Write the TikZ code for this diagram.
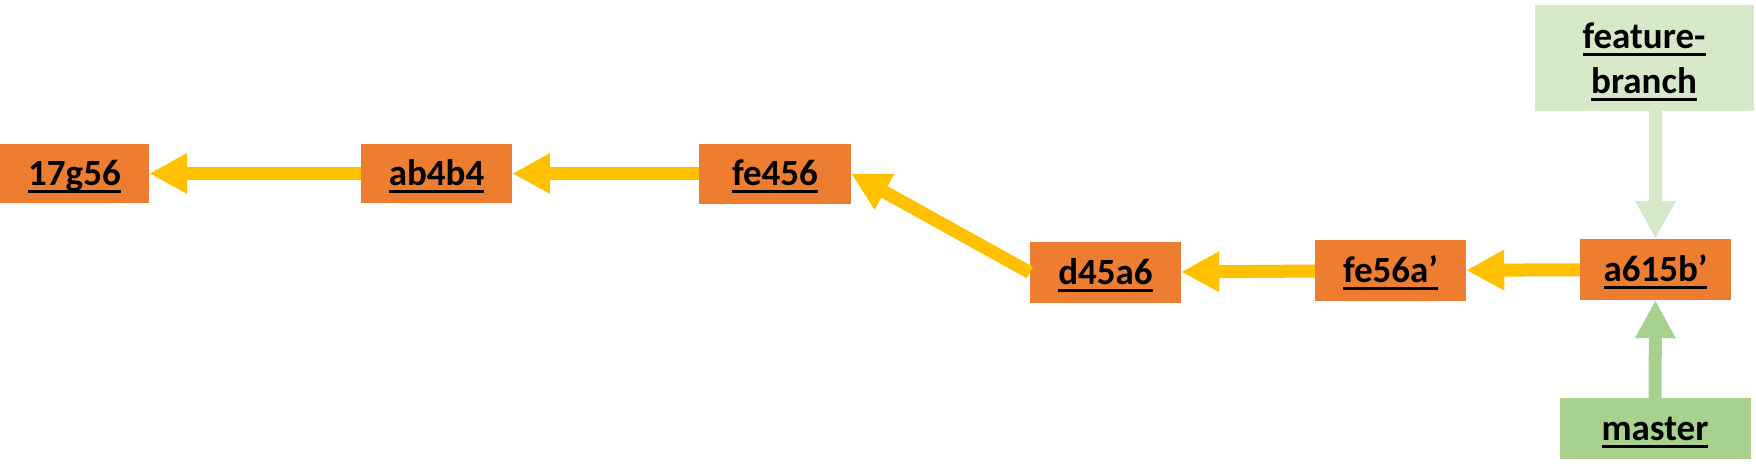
\documentclass[tikz,border=0pt]{standalone}
\usepackage{fontspec}
\setmainfont{Carlito}
\usetikzlibrary{arrows.meta}
\definecolor{commitorange}{HTML}{ED7D31}
\definecolor{arrowyellow}{HTML}{FFC000}
\definecolor{mastergreen}{HTML}{A9D18E}
\definecolor{fbgreen}{HTML}{D5E8C8}
\newcommand\ulx[1]{\setbox0=\hbox{#1}\rlap{\smash{\rule[-7.5pt]{\wd0}{2.3pt}}}\box0}
\begin{document}
\begin{tikzpicture}[x=1pt,y=-1pt,
  lbl/.style={inner sep=0pt, font=\fontsize{37}{45}\selectfont\bfseries},
  box/.style={lbl, text height=23.4pt, text depth=0pt},
  commit/.style={box, fill=commitorange, minimum width=151pt, minimum height=60pt},
  link/.style={draw=arrowyellow, line width=13pt, -{Triangle[length=38pt,width=38pt]}},
]
\useasboundingbox (0,0) rectangle (1756,474);
\node[commit, minimum width=149pt, minimum height=59pt] (c1) at (74.5,173.5) {\ulx{17g56}};
\node[commit, minimum height=59pt] (c2) at (436.5,173.5) {\ulx{ab4b4}};
\node[commit, minimum width=152pt] (c3) at (775,173.5) {\ulx{fe456}};
\node[commit, minimum height=61pt] (c4) at (1105.5,272.5) {\ulx{d45a6}};
\node[commit, minimum height=61pt] (c5) at (1390.5,270.5) {\ulx{fe56a’}};
\node[commit, minimum height=61pt] (c6) at (1655.5,269.5) {\ulx{a615b’}};
\node[box, fill=mastergreen, minimum width=191pt, minimum height=61pt] (m) at (1655,428.5) {\ulx{master}};
\node[lbl, fill=fbgreen, minimum width=219pt, minimum height=106pt, align=center] (fb) at (1644,58) {\ulx{feature-}\\\ulx{branch}};
\draw[link] (c2) -- (c1);
\draw[link] (c3) -- (c2);
\draw[link] (c4.west) -- (c3.east);
\draw[link] (c5) -- (c4);
\draw[link] (c6) -- (c5);
\draw[link, draw=fbgreen] (fb.south -| c6.north) -- (c6.north);
\draw[link, draw=mastergreen] (m) -- (c6);
\end{tikzpicture}
\end{document}
